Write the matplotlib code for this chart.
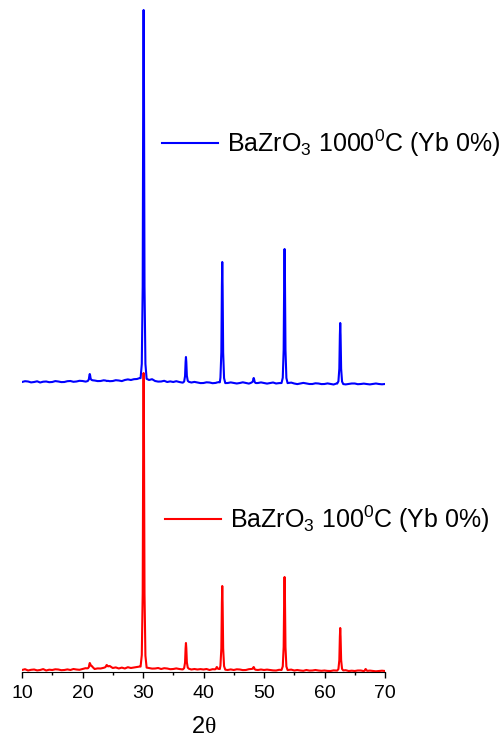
import numpy as np
import matplotlib.pyplot as plt

plt.rcParams['font.family'] = ['Liberation Sans', 'DejaVu Sans']
plt.rcParams['mathtext.fontset'] = 'custom'
plt.rcParams['mathtext.rm'] = 'Liberation Sans'
plt.rcParams['mathtext.sf'] = 'Liberation Serif'
plt.rcParams['mathtext.default'] = 'regular'

# background level read every half degree, 10..70
two_theta = np.arange(10, 70.01, 0.5)
red_base = [2, 2.8, 1.5, 2.2, 2.5, 1.6, 2, 2.9, 1.5, 2.3,
            2, 2.7, 2.5, 1.8, 2, 2.6, 2, 3, 2.5, 2.2,
            3, 3.8, 3.5, 6, 3, 3.6, 3.5, 4.2, 5, 6,
            4, 4.6, 3.5, 4.4, 3.5, 4.8, 4, 4.5, 5, 5.5,
            5, 4.5, 4, 3.4, 3.5, 4, 3, 3.8, 3.5, 2.8,
            3, 3.6, 3, 2.6, 3, 3.4, 2.5, 3, 2.5, 2.9,
            2.5, 3, 2, 2.8, 2.5, 3, 3, 2.4, 2, 2.6,
            2, 2.7, 2.5, 1.9, 2, 2.8, 3, 2.2, 2, 2.5,
            2, 2.4, 2, 1.6, 1.5, 2.2, 2, 1.6, 2, 2.4,
            1.5, 2, 1.5, 1.2, 2, 1.4, 1.5, 2, 1.5, 1.2,
            1.5, 1.1, 1, 1.6, 1.5, 1, 1.5, 1.8, 1, 1.3,
            1, 1.5, 1.5, 0.8, 1, 1.4, 1, 0.7, 1, 1.3,
            1]
blue_base = [290, 290.8, 290.5, 289.6, 290, 290.7, 289.5, 290.3, 290.5, 289.8,
             290, 290.9, 290.5, 289.9, 290, 290.8, 291, 290.2, 290.5, 291.2,
             291, 290.4, 291, 291.8, 291.5, 290.9, 291, 291.7, 291.5, 290.8,
             291, 291.8, 291.5, 290.9, 292, 292.6, 292, 292.8, 293, 294,
             293, 293.5, 292, 292.8, 291, 290.4, 290.5, 291.2, 290, 290.6,
             290, 290.8, 290, 289.4, 289.5, 290.3, 289.5, 290.1, 289.5, 288.9,
             289, 289.7, 289.5, 288.8, 289, 289.8, 289.5, 288.9, 289, 289.6,
             289, 288.5, 289, 289.7, 289, 288.4, 289.5, 288.8, 289, 289.6,
             289, 288.4, 289, 289.5, 288.5, 288.9, 289, 288.3, 289, 289.4,
             288.5, 287.9, 288.5, 289.1, 288.5, 288, 288, 288.7, 288.5, 287.9,
             288, 288.6, 288, 287.5, 288.5, 288.1, 288, 287.6, 288, 288.5,
             288.5, 287.8, 288, 288.4, 288, 287.6, 288, 288.5, 288, 287.7,
             288]

# reflections: 2theta position and apex intensity (a.u., blue stacked above red)
peak_pos = [21.2, 24.0, 30.1, 37.1, 42.2, 43.1, 48.3, 53.4, 62.6, 66.8]
red_peak_top = [9, 7, 299, 29, 5, 86, 5, 95, 44, 3]
blue_peak_top = [298, 291, 662, 315, 289.5, 410, 294, 423, 349, 288]

# peak profile: (offset in degrees, fraction of peak height)
profile = [(-0.5, 0.0), (-0.3, 0.04), (-0.15, 0.25), (-0.06, 0.8), (0.0, 1.0),
           (0.06, 0.8), (0.15, 0.25), (0.3, 0.04), (0.5, 0.0)]


def build_pattern(base, tops):
    base = np.asarray(base, dtype=float)
    keep = np.ones(len(two_theta), dtype=bool)
    for p in peak_pos:
        keep &= np.abs(two_theta - p) > 0.5
    xs = list(two_theta[keep])
    ys = list(base[keep])
    for p, top in zip(peak_pos, tops):
        b0 = np.interp(p, two_theta, base)
        for dx, frac in profile:
            b = np.interp(p + dx, two_theta, base)
            xs.append(p + dx)
            ys.append(b + frac * (top - b0))
    order = np.argsort(xs)
    return np.array(xs)[order], np.array(ys)[order]


fig = plt.figure(figsize=(5.04, 7.40), dpi=100)
ax = fig.add_axes([22 / 504, 68 / 740, 363 / 504, 672 / 740])

xr, yr = build_pattern(red_base, red_peak_top)
xb, yb = build_pattern(blue_base, blue_peak_top)
lr, = ax.plot(xr, yr, color='#ff0000', lw=1.5)
lb, = ax.plot(xb, yb, color='#0000ff', lw=1.5)

ax.set_xlim(10, 70)
ax.set_ylim(0, 672)
ax.set_xticks(np.arange(10, 71, 10))
ax.set_xticks(np.arange(10, 71, 5), minor=True)
ax.set_yticks([])
for s in ['left', 'right', 'top']:
    ax.spines[s].set_visible(False)
ax.tick_params(axis='x', which='major', direction='out', length=4, width=1,
               labelsize=14, pad=5)
ax.tick_params(axis='x', which='minor', direction='out', length=2.5, width=1)
ax.set_xlabel('2$\\mathsf{θ}$', fontsize=17, labelpad=10.5)

leg_b = fig.legend([lb], ['BaZrO$_3$ 1000$^0$C (Yb 0%)'], loc='center left',
                   bbox_to_anchor=(162 / 504, 1 - 143 / 740), frameon=False,
                   fontsize=18, handlelength=2.24, handletextpad=0.36,
                   borderpad=0, borderaxespad=0)
leg_r = fig.legend([lr], ['BaZrO$_3$ 100$^0$C (Yb 0%)'], loc='center left',
                   bbox_to_anchor=(165 / 504, 1 - 519 / 740), frameon=False,
                   fontsize=18, handlelength=2.24, handletextpad=0.36,
                   borderpad=0, borderaxespad=0)

fig.savefig('out.png', dpi=100)
